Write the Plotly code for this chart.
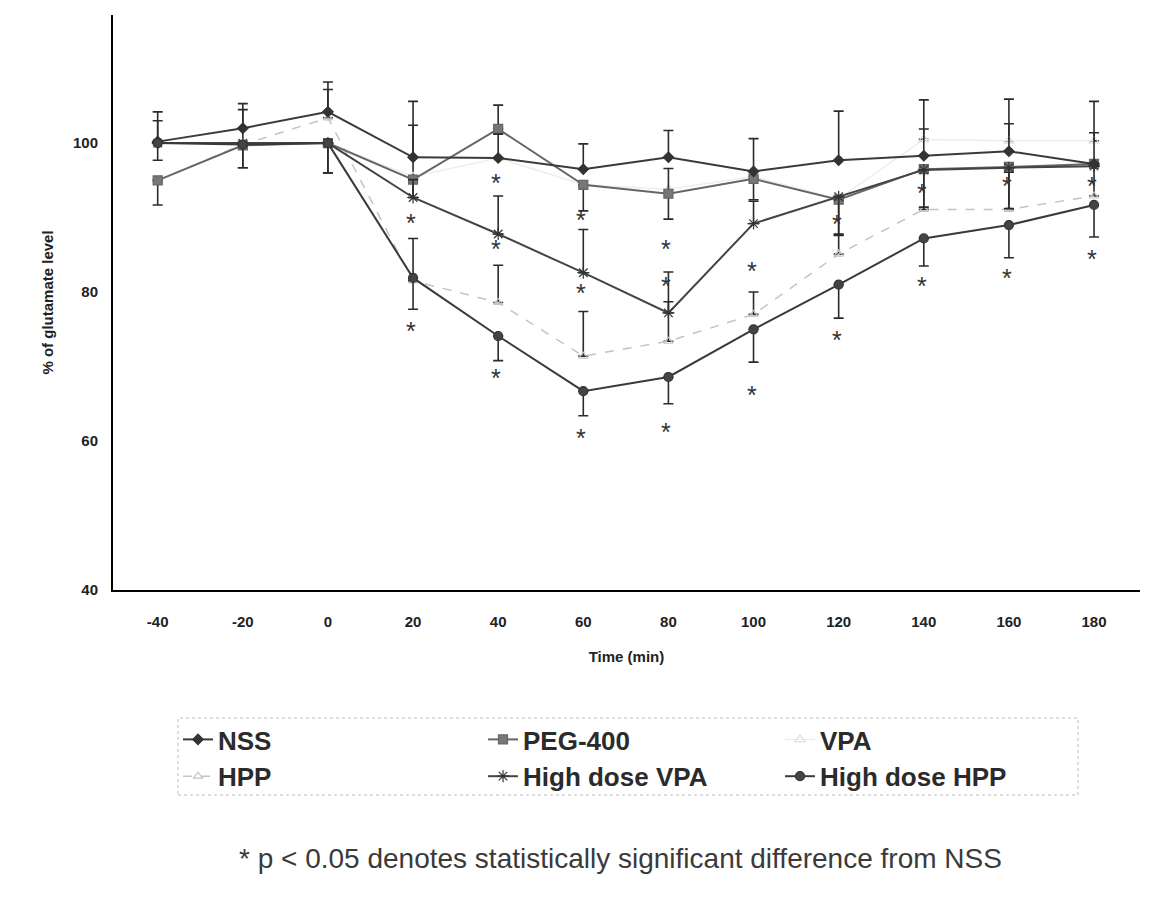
import plotly.graph_objects as go

# ---------------- data ----------------
time_min = [-40, -20, 0, 20, 40, 60, 80, 100, 120, 140, 160, 180]
tick_text = ["-40", "-20", "0", "20", "40", "60", "80", "100", "120", "140", "160", "180"]

nss = [100.2, 102.0, 104.2, 98.1, 98.0, 96.5, 98.1, 96.2, 97.7, 98.3, 98.9, 97.2]
nss_plus = [4.0, 3.3, 4.0, 4.3, 3.2, 3.4, 3.6, 4.4, 6.6, 3.6, 3.7, 4.2]
nss_minus = [0, 0, 0, 0, 0, 0, 0, 0, 0, 0, 0, 0]

peg = [95.0, 99.7, 100.0, 95.1, 101.9, 94.4, 93.2, 95.2, 92.4, 96.5, 96.8, 97.2]
peg_plus = [0, 0, 0, 0, 3.2, 0, 3.4, 0, 0, 0, 0, 0]
peg_minus = [3.3, 3.0, 4.0, 2.4, 0, 3.5, 3.4, 2.8, 4.7, 0, 0, 0]

vpa = [100.0, 100.0, 100.0, 95.5, 98.0, 94.4, 93.8, 95.5, 92.5, 100.5, 100.3, 100.3]
vpa_plus = [0, 4.5, 0, 10.1, 0, 0, 0, 0, 0, 5.3, 5.6, 5.3]
vpa_minus = [0, 0, 0, 0, 0, 0, 0, 0, 0, 0, 0, 0]

hpp = [95.0, 99.8, 103.4, 81.5, 78.6, 71.4, 73.4, 77.0, 85.1, 91.1, 91.1, 92.9]
hpp_plus = [0, 0, 3.8, 5.7, 5.0, 6.0, 5.3, 3.0, 2.5, 5.0, 5.0, 4.5]
hpp_minus = [0, 0, 0, 0, 0, 0, 0, 0, 0, 0, 0, 0]

hd_vpa = [100.0, 100.0, 100.0, 92.7, 87.8, 82.6, 77.2, 89.2, 92.8, 96.4, 96.7, 96.9]
hd_vpa_plus = [3.0, 0, 0, 2.4, 5.1, 5.8, 5.5, 3.0, 0, 0, 0, 0]
hd_vpa_minus = [0, 0, 0, 0, 0, 0, 0, 0, 5.0, 5.0, 5.5, 0]

hd_hpp = [100.0, 99.8, 100.0, 81.9, 74.1, 66.7, 68.6, 75.0, 81.0, 87.2, 89.0, 91.7]
hd_hpp_plus = [0, 0, 0, 0, 0, 0, 0, 0, 0, 0, 0, 0]
hd_hpp_minus = [2.3, 3.1, 4.0, 4.2, 3.3, 3.3, 3.6, 4.4, 4.5, 3.7, 4.4, 4.3]

# significance asterisks (x, y)
star_x = [20, 20, 40, 40, 40, 60, 60, 60, 80, 80, 80, 100, 100, 120, 120, 140, 140, 160, 160, 180, 180]
star_y = [90.0, 75.4, 95.3, 86.4, 69.2, 90.4, 80.6, 61.1, 86.4, 81.5, 61.9, 83.5, 66.8,
          89.8, 74.2, 94.0, 81.5, 94.9, 82.6, 94.9, 85.1]

# ---------------- figure ----------------
W, H = 1155, 914
ML, MR, MT, MB = 113, 15, 15, 324
PW, PH = W - ML - MR, H - MT - MB

def px_x(px):
    return (px - ML) / PW

def px_y(py):
    return (H - MB - py) / PH

ERR_COL = "#2b2b2b"
fig = go.Figure()

def add_series(name, y, plus, minus, color, width, dash, symbol, msize, mcolor, mline,
               legend, rank):
    fig.add_trace(go.Scatter(
        x=time_min, y=y, name=name, mode="lines+markers",
        line=dict(color=color, width=width, dash=dash),
        marker=dict(symbol=symbol, size=msize, color=mcolor,
                    line=dict(color=mline, width=1.2)),
        error_y=dict(type="data", symmetric=False, array=plus, arrayminus=minus,
                     color=ERR_COL, thickness=1.6, width=5),
        legend=legend, legendrank=rank,
    ))

add_series("VPA", vpa, vpa_plus, vpa_minus, "#eeeeee", 1.5, "solid",
           "triangle-up-open", 9, "#dddddd", "#d6d6d6", "legend3", 1)
add_series("HPP", hpp, hpp_plus, hpp_minus, "#c4c4c4", 1.5, "dash",
           "triangle-up-open", 8, "#c4c4c4", "#bdbdbd", "legend", 2)
add_series("PEG-400", peg, peg_plus, peg_minus, "#666666", 2, "solid",
           "square", 9, "#777777", "#666666", "legend2", 1)
add_series("NSS", nss, nss_plus, nss_minus, "#3a3a3a", 2, "solid",
           "diamond", 8, "#333333", "#333333", "legend", 1)
add_series("High dose VPA", hd_vpa, hd_vpa_plus, hd_vpa_minus, "#444444", 2, "solid",
           "asterisk-open", 10, "#333333", "#333333", "legend2", 2)
add_series("High dose HPP", hd_hpp, hd_hpp_plus, hd_hpp_minus, "#3a3a3a", 2, "solid",
           "circle", 9, "#444444", "#333333", "legend3", 2)

annotations = []
for sx, sy in zip(star_x, star_y):
    annotations.append(dict(x=sx, y=sy, xref="x", yref="y", text="*", showarrow=False,
                            xshift=-2, yshift=-5,
                            font=dict(family="Liberation Sans, Arial", size=25, color="#333333")))

annotations.append(dict(
    x=px_x(620), y=px_y(858), xref="paper", yref="paper",
    text="* p &lt; 0.05 denotes statistically significant difference from NSS",
    showarrow=False, xanchor="center", yanchor="middle",
    font=dict(family="Liberation Sans, Arial", size=28, color="#3a3a3a")))

LEG_FONT = dict(family="Liberation Sans, Arial", size=26, color="#2b2b2b", weight="bold")
leg_common = dict(orientation="v", yanchor="top", xanchor="left", bgcolor="rgba(0,0,0,0)",
                  borderwidth=0, font=LEG_FONT, traceorder="normal", tracegroupgap=0,
                  itemwidth=30)

AX_FONT = "Liberation Sans Narrow, Arial Narrow, Liberation Sans, Arial"

fig.update_layout(
    width=W, height=H,
    margin=dict(l=ML, r=MR, t=MT, b=MB, pad=0),
    paper_bgcolor="white", plot_bgcolor="white",
    showlegend=True,
    legend=dict(x=px_x(178), y=px_y(716), **leg_common),
    legend2=dict(x=px_x(483), y=px_y(716), **leg_common),
    legend3=dict(x=px_x(780), y=px_y(716), **leg_common),
    annotations=annotations,
    shapes=[dict(type="rect", xref="paper", yref="paper",
                 x0=px_x(178), x1=px_x(1078), y0=px_y(795), y1=px_y(718),
                 line=dict(color="#bdbdbd", width=1, dash="dot"))],
    xaxis=dict(range=[-50.5, 190.8], tickmode="array", tickvals=time_min,
               ticktext=["<b>" + t + "</b>" for t in tick_text],
               showgrid=False, zeroline=False, showline=True, linecolor="black", linewidth=2,
               ticks="outside", ticklen=17, tickcolor="rgba(0,0,0,0)",
               tickfont=dict(family=AX_FONT, size=15, color="#222222"),
               title=dict(text="<b>Time (min)</b>", standoff=22,
                          font=dict(family=AX_FONT, size=15, color="#222222"))),
    yaxis=dict(range=[40, 117.2], tickmode="array", tickvals=[40, 60, 80, 100],
               ticktext=["<b>40</b>", "<b>60</b>", "<b>80</b>", "<b>100</b>"],
               showgrid=False, zeroline=False, showline=True, linecolor="black", linewidth=2,
               ticks="outside", ticklen=10, tickcolor="rgba(0,0,0,0)",
               tickfont=dict(family=AX_FONT, size=15, color="#222222"),
               title=dict(text="<b>% of glutamate level</b>", standoff=16,
                          font=dict(family=AX_FONT, size=15, color="#222222"))),
)

fig.write_html("out.html")
